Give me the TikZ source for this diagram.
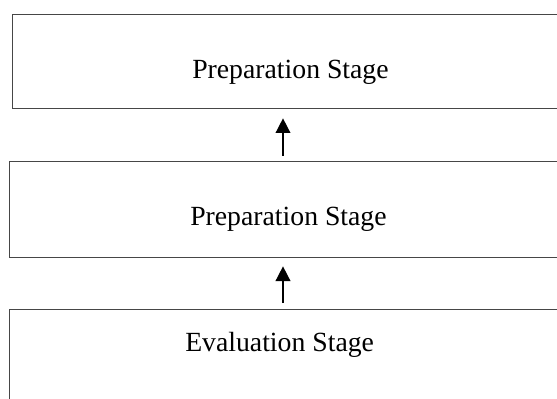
\documentclass[tikz,border=0pt]{standalone}
\usepackage{fontspec}
\setmainfont{Liberation Serif}
\usetikzlibrary{arrows.meta}

\tikzset{
  stagebox/.style={draw={rgb,255:red,70;green,70;blue,70}, line width=0.75pt, rectangle, anchor=north west, inner sep=0pt, outer sep=0pt, minimum width=520pt},
  stagetext/.style={anchor=base west, inner sep=0pt, font=\fontsize{20.8}{24}\selectfont},
  flow/.style={line width=1.1pt, -{Triangle[length=11pt,width=11pt]}, shorten <=4.5pt, shorten >=7pt}
}

\begin{document}
\begin{tikzpicture}[x=0.75pt,y=0.75pt,yscale=-1,xscale=1]
\useasboundingbox (0,0) rectangle (557,399);
\clip (0,0) rectangle (557,399);
%Boxes
\node[stagebox, minimum height=70.5pt] (prepA) at (12,15) {};
\node[stagebox, minimum height=71.25pt] (prepB) at (9,162) {};
\node[stagebox, minimum height=90pt] (evalC) at (9,309) {};
% Text Nodes
\node[stagetext] (prepAtxt) at (192,79) {Preparation Stage};
\node[stagetext] (prepBtxt) at (190,225) {Preparation Stage};
\node[stagetext] (evalCtxt) at (185,351) {Evaluation Stage};
%Arrows
\coordinate (ax) at (283,0);
\draw[flow] (prepB.north -| ax) -- (prepA.south -| ax);
\draw[flow] (evalC.north -| ax) -- (prepB.south -| ax);
\end{tikzpicture}
\end{document}
